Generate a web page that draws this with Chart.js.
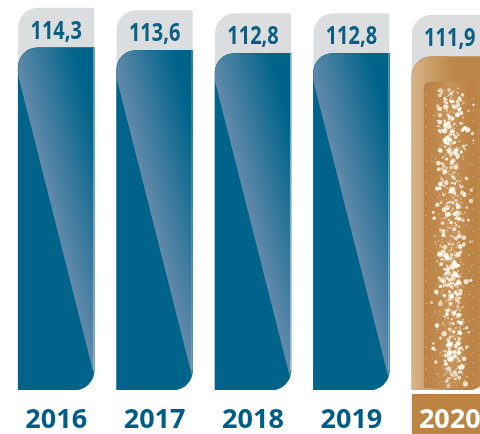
<!DOCTYPE html>
<html>
<head>
<meta charset="utf-8">
<script src="https://cdn.jsdelivr.net/npm/chart.js@4.4.1/dist/chart.umd.min.js"></script>
<style>
  html, body { margin: 0; padding: 0; background: #fff; overflow: hidden; }
  #wrap { width: 480px; height: 434px; overflow: hidden; }
  canvas { display: block; }
</style>
</head>
<body>
<div id="wrap"><canvas id="chart" width="499" height="434"></canvas></div>
<script>
const years = ['2016', '2017', '2018', '2019', '2020'];
const values = [114.3, 113.6, 112.8, 112.8, 111.9];
const valueLabels = ['114,3', '113,6', '112,8', '112,8', '111,9'];
const Y_MIN = 23;
const Y_MAX = 127;

const BLUE = '#00648a';
const GOLD = '#bc8748';
const GREY = '#dcdddf';
const INK = '#0a5f84';
const R = 20;

// small seeded generator, only for the glitter texture on the 2020 bar
function mulberry32(a) {
  return function () {
    a |= 0; a = a + 0x6D2B79F5 | 0;
    let t = Math.imul(a ^ a >>> 15, 1 | a);
    t = t + Math.imul(t ^ t >>> 7, 61 | t) ^ t;
    return ((t ^ t >>> 14) >>> 0) / 4294967296;
  };
}

function barPath(ctx, l, t, r, b) {
  ctx.beginPath();
  ctx.moveTo(l, t + R);
  ctx.arcTo(l, t, l + R, t, R);
  ctx.lineTo(r, t);
  ctx.lineTo(r, b - R);
  ctx.arcTo(r, b, r - R, b, R);
  ctx.lineTo(l, b);
  ctx.closePath();
}

const decor = {
  id: 'decor',
  beforeDraw(chart) {
    const ctx = chart.ctx;
    const el = chart.getDatasetMeta(0).data[4];
    const l = el.x - el.width / 2;
    ctx.save();
    ctx.fillStyle = '#bb8445';
    ctx.fillRect(l, chart.chartArea.bottom + 4, el.width, 60);
    ctx.restore();
  },
  beforeDatasetsDraw(chart) {
    const ctx = chart.ctx;
    chart.getDatasetMeta(0).data.forEach((el, i) => {
      const l = el.x - el.width / 2, r = el.x + el.width / 2;
      const capTop = el.y - (i === 4 ? 42 : 40);
      ctx.save();
      ctx.fillStyle = GREY;
      ctx.beginPath();
      ctx.moveTo(l, el.y + R + 5);
      ctx.lineTo(l, capTop + R);
      ctx.arcTo(l, capTop, l + R, capTop, R);
      ctx.lineTo(r, capTop);
      ctx.lineTo(r, el.y + R + 5);
      ctx.closePath();
      ctx.fill();
      ctx.restore();
    });
  },
  afterDatasetsDraw(chart) {
    const ctx = chart.ctx;
    chart.getDatasetMeta(0).data.forEach((el, i) => {
      const l = el.x - el.width / 2, r = el.x + el.width / 2;
      const t = el.y, b = el.base;
      ctx.save();
      barPath(ctx, l, t, r, b);
      ctx.clip();
      if (i < 4) {
        // diagonal sheen
        const x0 = l, y0 = t + 24;
        const g = ctx.createLinearGradient(x0, y0, x0 + 0.97 * 60, y0 - 0.243 * 60);
        g.addColorStop(0, '#6189aa');
        g.addColorStop(1, BLUE);
        ctx.fillStyle = g;
        ctx.beginPath();
        ctx.moveTo(l - 1, t - 1);
        ctx.lineTo(r + 1, t - 1);
        ctx.lineTo(r + 1, t + 326);
        ctx.lineTo(l + 75, t + 324);
        ctx.lineTo(l - 1, t + 24);
        ctx.closePath();
        ctx.fill();
        ctx.strokeStyle = 'rgba(200,220,232,0.6)';
        ctx.lineWidth = 1;
        ctx.beginPath();
        ctx.moveTo(r - 0.5, t);
        ctx.lineTo(r - 0.5, b - R);
        ctx.stroke();
      } else {
        // gold bar: light rim, darker inner panel, glitter
        const g = ctx.createLinearGradient(l, 0, l + 40, 0);
        g.addColorStop(0, '#d8b489');
        g.addColorStop(1, GOLD);
        ctx.fillStyle = g;
        ctx.fillRect(l, t, 40, b - t);
        const il = l + 12, it = t + 25, ir = r - 12, ib = b - 2;
        const gi = ctx.createLinearGradient(il, 0, ir, 0);
        gi.addColorStop(0, '#b98142');
        gi.addColorStop(0.5, '#c69258');
        gi.addColorStop(1, '#b98142');
        ctx.fillStyle = gi;
        ctx.beginPath();
        ctx.moveTo(il, it + 6);
        ctx.arcTo(il, it, il + 6, it, 6);
        ctx.lineTo(ir, it);
        ctx.lineTo(ir, ib);
        ctx.lineTo(il, ib);
        ctx.closePath();
        ctx.fill();
        const rnd = mulberry32(20200);
        const cx = l + 40;
        for (let k = 0; k < 900; k++) {
          const gauss = (rnd() + rnd() + rnd() + rnd() - 2) * 1.7;
          const x = cx + gauss * 8;
          const y = it + 6 + rnd() * (ib - it - 8);
          if (x < il + 2 || x > ir - 2) continue;
          const rr = 0.5 + Math.pow(rnd(), 3) * 2.2;
          ctx.fillStyle = 'rgba(255,250,240,' + (0.55 + rnd() * 0.45).toFixed(2) + ')';
          ctx.beginPath();
          ctx.arc(x, y, rr, 0, Math.PI * 2);
          ctx.fill();
        }
        ctx.fillStyle = 'rgba(255,245,230,0.55)';
        for (let y = it + 12; y < ib; y += 11) {
          ctx.fillRect(il + 1.5, y, 1.2, 1.2);
          ctx.fillRect(ir - 3, y + 5, 1.2, 1.2);
        }
      }
      ctx.restore();
    });
  },
  afterDraw(chart) {
    const ctx = chart.ctx;
    chart.getDatasetMeta(0).data.forEach((el, i) => {
      ctx.save();
      ctx.translate(el.x, el.y - (i === 4 ? 11 : 9));
      ctx.scale(0.8, 1);
      ctx.font = 'bold 25px "Open Sans"';
      ctx.fillStyle = INK;
      ctx.textAlign = 'center';
      ctx.textBaseline = 'alphabetic';
      ctx.fillText(valueLabels[i], 0, 0);
      ctx.restore();
    });
  }
};

new Chart(document.getElementById('chart'), {
  type: 'bar',
  data: {
    labels: years,
    datasets: [{
      data: values,
      base: Y_MIN,
      backgroundColor: values.map((v, i) => i === 4 ? GOLD : BLUE),
      borderWidth: 0,
      borderSkipped: false,
      borderRadius: { topLeft: R, topRight: 0, bottomLeft: 0, bottomRight: R },
      barThickness: 76
    }]
  },
  options: {
    responsive: false,
    animation: false,
    layout: { padding: { left: 7, right: 0, top: 0, bottom: 0 } },
    plugins: { legend: { display: false }, tooltip: { enabled: false } },
    scales: {
      y: { display: false, min: Y_MIN, max: Y_MAX },
      x: {
        grid: { display: false, drawTicks: false, tickLength: 0 },
        border: { display: false },
        ticks: {
          padding: 17,
          font: { family: 'Open Sans', size: 27, weight: 'bold', lineHeight: 1 },
          color: (c) => c.index === 4 ? '#ffffff' : '#005e86'
        },
        afterFit(scale) { scale.height = 44; }
      }
    }
  },
  plugins: [decor]
});
</script>
</body>
</html>
